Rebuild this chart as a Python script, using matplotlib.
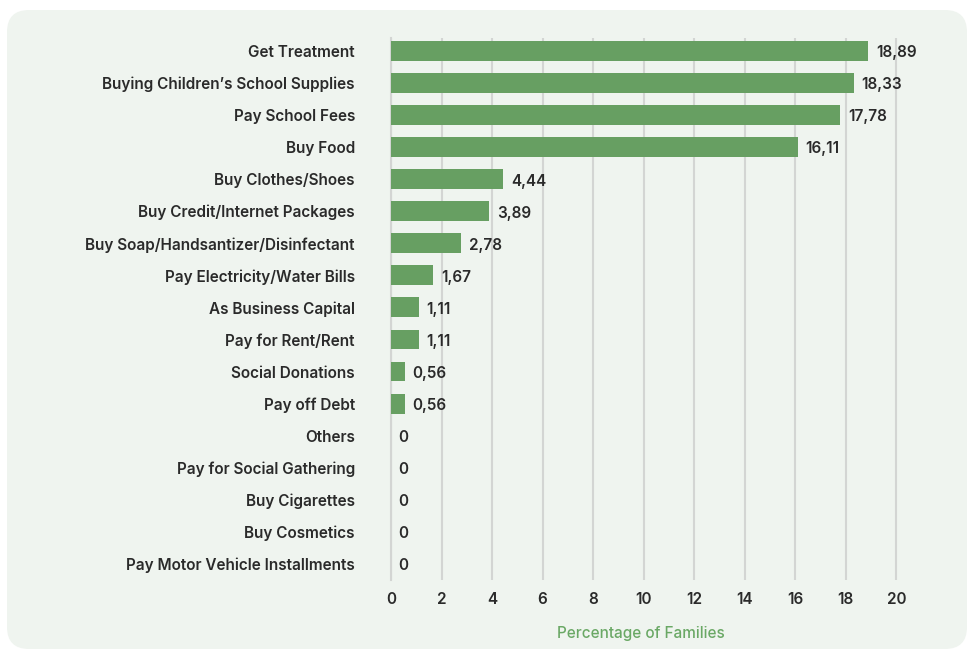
import matplotlib.pyplot as plt
from matplotlib.patches import FancyBboxPatch

plt.rcParams['font.family'] = ['Inter', 'DejaVu Sans']

categories = ["Get Treatment", "Buying Children\u2019s School Supplies", "Pay School Fees",
              "Buy Food", "Buy Clothes/Shoes", "Buy Credit/Internet Packages",
              "Buy Soap/Handsantizer/Disinfectant", "Pay Electricity/Water Bills",
              "As Business Capital", "Pay for Rent/Rent", "Social Donations",
              "Pay off Debt", "Others", "Pay for Social Gathering", "Buy Cigarettes",
              "Buy Cosmetics", "Pay Motor Vehicle Installments"]
values = [18.89, 18.33, 17.78, 16.11, 4.44, 3.89, 2.78, 1.67, 1.11, 1.11,
          0.56, 0.56, 0, 0, 0, 0, 0]
xticks = [0, 2, 4, 6, 8, 10, 12, 14, 16, 18, 20]

bar_color = '#679f62'
text_color = '#2a2a2a'
grid_color = '#d3d5d3'
panel_color = '#eff4ef'

W, H = 969, 651
fig = plt.figure(figsize=(W / 100, H / 100), dpi=100)
fig.patch.set_facecolor('white')

# background card with rounded corners, drawn in pixel units
bg = fig.add_axes([0, 0, 1, 1])
bg.set_xlim(0, W)
bg.set_ylim(H, 0)
bg.axis('off')
bg.add_patch(FancyBboxPatch((7, 10), W - 9, H - 12,
                            boxstyle="round,pad=0,rounding_size=22",
                            facecolor=panel_color, edgecolor='none'))

ax = fig.add_axes([391 / W, (H - 580) / H, (909 - 391) / W, (580 - 38) / H])
ax.set_facecolor('none')

y = list(range(len(categories)))
ax.barh(y, values, height=0.62, color=bar_color, zorder=3)

for yi, v in zip(y, values):
    label = f"{v:.2f}".replace('.', ',') if v else "0"
    ax.text(v + 0.3, yi + 0.06, label, va='center', ha='left',
            fontsize=11, color=text_color, fontweight='semibold', zorder=4)

ax.set_xlim(0, 20.5)
ax.set_ylim(16.5, -0.4)
ax.set_xticks(xticks)
ax.set_yticks(y)
ax.set_yticklabels(categories)
ax.tick_params(axis='y', length=0, pad=26, labelsize=11, labelcolor=text_color)
ax.tick_params(axis='x', length=0, pad=9, labelsize=11, labelcolor=text_color)
for lbl in ax.get_yticklabels() + ax.get_xticklabels():
    lbl.set_fontweight('semibold')

ax.grid(axis='x', color=grid_color, linewidth=1.5, zorder=0)
ax.grid(axis='y', visible=False)
for side in ['top', 'right', 'bottom']:
    ax.spines[side].set_visible(False)
ax.spines['left'].set_color(grid_color)
ax.spines['left'].set_linewidth(1.5)

ax.set_xlabel("Percentage of Families", color='#6aa865', fontsize=11,
              fontweight='medium')
ax.xaxis.set_label_coords(0.483, -0.085)

fig.savefig('out.png', dpi=100, facecolor=fig.get_facecolor())
